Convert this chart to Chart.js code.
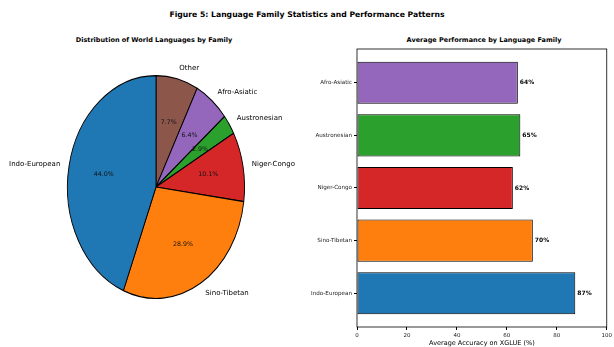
<!DOCTYPE html>
<html><head><meta charset="utf-8">
<script src="https://cdn.jsdelivr.net/npm/chart.js@4.4.0/dist/chart.umd.min.js"></script>
<style>
body{margin:0;background:#fff;width:614px;height:347px;overflow:hidden;position:relative;font-family:"DejaVu Sans",sans-serif}
.t{position:absolute;font-weight:bold;color:#000;white-space:nowrap;transform:translateX(-50%);line-height:1}
#pie{position:absolute;left:0;top:0}
#bar{position:absolute;left:300px;top:0}
</style></head><body>
<div class="t" style="left:307px;top:11px;font-size:7.7px">Figure 5: Language Family Statistics and Performance Patterns</div>
<div class="t" style="left:154px;top:37px;font-size:6.5px">Distribution of World Languages by Family</div>
<div class="t" style="left:484px;top:37px;font-size:6.5px">Average Performance by Language Family</div>
<canvas id="pie" width="310" height="347"></canvas>
<canvas id="bar" width="314" height="347"></canvas>
<script>
// Pie data (matplotlib order, counter-clockwise from top)
const pieLabels = ["Indo-European", "Sino-Tibetan", "Niger-Congo", "Austronesian", "Afro-Asiatic", "Other"];
const pieValues = [44.0, 28.9, 10.1, 2.9, 6.4, 7.7];
const pieColors = ["#1f77b4", "#ff7f0e", "#d62728", "#2ca02c", "#9467bd", "#8c564b"];

// Bar data (bottom to top)
const barLabels = ["Indo-European", "Sino-Tibetan", "Niger-Congo", "Austronesian", "Afro-Asiatic"];
const barValues = [87.4, 70.4, 62.4, 65.4, 64.4];
const barColors = ["#1f77b4", "#ff7f0e", "#d62728", "#2ca02c", "#9467bd"];
const xTicks = [0, 20, 40, 60, 80, 100];

const SY = 112 / 89;
const FONT = '"DejaVu Sans", sans-serif';

const ellipsePlugin = {
  id: 'ellipse',
  beforeDatasetsDraw(chart) {
    const el = chart.getDatasetMeta(0).data[0];
    const ctx = chart.ctx;
    ctx.save();
    ctx.translate(el.x, el.y);
    ctx.scale(1, SY);
    ctx.translate(-el.x, -el.y);
  },
  afterDatasetsDraw(chart) {
    const ctx = chart.ctx;
    ctx.restore();
    const meta = chart.getDatasetMeta(0);
    const lbls = chart.data.labels;
    const vals = chart.data.datasets[0].data;
    const total = vals.reduce((a, b) => a + b, 0);
    meta.data.forEach((el, i) => {
      const mid = (el.startAngle + el.endAngle) / 2;
      const dx = Math.cos(mid), dy = Math.sin(mid);
      const r = el.outerRadius;
      ctx.save();
      ctx.fillStyle = '#000';
      ctx.textBaseline = 'middle';
      ctx.font = '7px ' + FONT;
      ctx.textAlign = dx < 0 ? 'right' : 'left';
      ctx.fillText(lbls[i], el.x + 1.1 * r * dx, el.y + 1.1 * r * SY * dy);
      ctx.textAlign = 'center';
      ctx.font = '6.3px ' + FONT;
      ctx.fillStyle = '#111';
      ctx.fillText((vals[i] / total * 100).toFixed(1) + '%', el.x + 0.6 * r * dx, el.y + 0.6 * r * SY * dy);
      ctx.restore();
    });
  }
};

new Chart(document.getElementById('pie'), {
  type: 'pie',
  data: {
    labels: pieLabels.slice().reverse(),
    datasets: [{
      data: pieValues.slice().reverse(),
      backgroundColor: pieColors.slice().reverse(),
      borderColor: '#000',
      borderWidth: 0.9
    }]
  },
  options: {
    responsive: false,
    animation: false,
    layout: { padding: { left: 67, right: 65, top: 98, bottom: 71 } },
    plugins: { legend: { display: false }, tooltip: { enabled: false } }
  },
  plugins: [ellipsePlugin]
});

const barPlugin = {
  id: 'barExtras',
  afterDraw(chart) {
    const ctx = chart.ctx;
    const a = chart.chartArea;
    ctx.save();
    ctx.strokeStyle = '#000';
    ctx.lineWidth = 0.8;
    ctx.strokeRect(a.left, a.top, a.right - a.left, a.bottom - a.top);
    const meta = chart.getDatasetMeta(0);
    ctx.fillStyle = '#000';
    ctx.font = 'bold 6px ' + FONT;
    ctx.textBaseline = 'middle';
    ctx.textAlign = 'left';
    meta.data.forEach((el, i) => {
      ctx.fillText(Math.round(barValues[i]) + '%', el.x + 2, el.y);
    });
    ctx.restore();
  }
};

new Chart(document.getElementById('bar'), {
  type: 'bar',
  data: {
    datasets: [{
      data: barValues.map((v, i) => ({ x: v, y: i })),
      backgroundColor: barColors,
      borderColor: '#000',
      borderWidth: 1,
      borderSkipped: false,
      barPercentage: 0.8,
      categoryPercentage: 1
    }]
  },
  options: {
    indexAxis: 'y',
    responsive: false,
    animation: false,
    layout: { padding: { left: 0, right: 7, top: 49, bottom: 0 } },
    plugins: { legend: { display: false }, tooltip: { enabled: false } },
    scales: {
      x: {
        type: 'linear', min: 0, max: 100, offset: false,
        afterBuildTicks(s) { s.ticks = xTicks.map(v => ({ value: v })); },
        afterFit(s) { s.height = 20; },
        grid: { offset: false, drawOnChartArea: false, drawTicks: true, tickLength: 3, color: '#000' },
        border: { display: false },
        ticks: { font: { size: 5.5, family: FONT }, color: '#222', padding: 2, maxRotation: 0 },
        title: { display: true, text: 'Average Accuracy on XGLUE (%)', font: { size: 6.5, family: FONT }, color: '#000', padding: 0 }
      },
      y: {
        type: 'linear', min: -0.64, max: 4.64, offset: false,
        afterBuildTicks(s) { s.ticks = barLabels.map((l, i) => ({ value: i })); },
        afterFit(s) { s.width = 57; },
        grid: { offset: false, drawOnChartArea: false, drawTicks: true, tickLength: 3, color: '#000' },
        border: { display: false },
        ticks: { font: { size: 5.6, family: FONT }, color: '#222', padding: 2, callback: v => barLabels[v] }
      }
    }
  },
  plugins: [barPlugin]
});
</script>
</body></html>
